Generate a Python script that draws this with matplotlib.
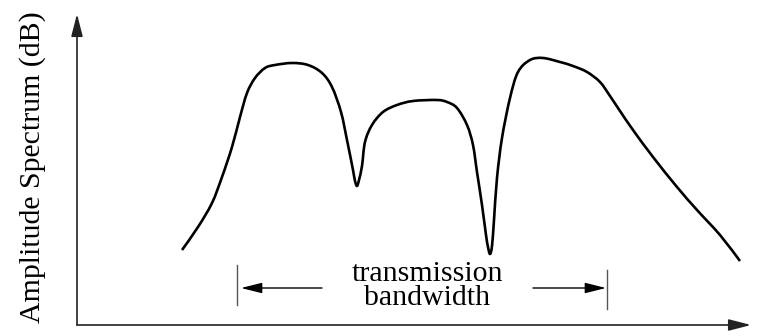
import matplotlib
matplotlib.use("Agg")
import matplotlib.pyplot as plt
from matplotlib.patches import FancyArrowPatch, PathPatch
from matplotlib.path import Path

plt.rcParams["font.family"] = ["Liberation Serif", "DejaVu Serif"]

# spectrum sketch: frequency (arbitrary units) vs amplitude (arbitrary dB units)
freq = [105, 121, 135, 145, 155, 163, 170, 178, 188, 198, 215, 231, 245, 255,
        264, 270, 276, 278, 280, 282, 285, 288, 295, 306, 320, 336, 360, 370,
        380, 390, 396, 400, 405, 409, 411, 413, 415, 417, 420, 425, 433, 441,
        453, 466, 483, 496, 510, 523, 533, 543, 556, 576, 600, 620, 643, 663]
amp = [75, 98, 122, 148, 178, 208, 232, 247, 257, 260, 262, 260, 252, 238,
       213, 185, 155, 144, 139, 145, 159, 183, 200, 213, 220, 224, 225, 223,
       217, 200, 180, 153, 120, 90, 78, 71, 79, 105, 147, 187, 227, 253,
       265, 267, 263, 259, 253, 243, 229, 214, 195, 168, 138, 115, 90, 64]

band_lo, band_hi = 164, 529   # transmission band edges
band_label = "transmission\nbandwidth"
ylabel = "Amplitude Spectrum (dB)"


def smooth_path(xs, ys):
    """Catmull-Rom through the points, emitted as cubic Bezier segments."""
    pts = list(zip(xs, ys))
    verts = [pts[0]]
    codes = [Path.MOVETO]
    n = len(pts)
    for i in range(n - 1):
        p0 = pts[max(i - 1, 0)]
        p1 = pts[i]
        p2 = pts[i + 1]
        p3 = pts[min(i + 2, n - 1)]
        c1 = (p1[0] + (p2[0] - p0[0]) / 6, p1[1] + (p2[1] - p0[1]) / 6)
        c2 = (p2[0] - (p3[0] - p1[0]) / 6, p2[1] - (p3[1] - p1[1]) / 6)
        verts += [c1, c2, p2]
        codes += [Path.CURVE4] * 3
    return Path(verts, codes)


fig = plt.figure(figsize=(7.62, 3.36), dpi=100)
ax = fig.add_axes([0, 0, 1, 1])
ax.set_xlim(-77, 685)
ax.set_ylim(-11, 325)
ax.axis("off")

# axes drawn as arrows
head = "-|>,head_length=0.85,head_width=0.22"
ax.annotate("", xy=(0, 311), xytext=(0, 0),
            arrowprops=dict(arrowstyle=head, color="#222", lw=1.2,
                            mutation_scale=16, shrinkA=0, shrinkB=0))
ax.annotate("", xy=(674, 0), xytext=(0, 0),
            arrowprops=dict(arrowstyle=head, color="#222", lw=1.2,
                            mutation_scale=16, shrinkA=0, shrinkB=0))

ax.add_patch(PathPatch(smooth_path(freq, amp), facecolor="none",
                       edgecolor="black", lw=1.9, joinstyle="round"))

# band edge markers and arrows
ax.plot([band_lo - 4, band_lo - 4], [20, 60], color="#555", lw=1.0)
ax.plot([band_hi + 1, band_hi + 1], [16, 55], color="#555", lw=1.0)
for tail, tip in [(245, band_lo), (456, band_hi)]:
    ax.add_patch(FancyArrowPatch((tail, 37), (tip, 37),
                                 arrowstyle="-|>,head_length=0.8,head_width=0.2",
                                 mutation_scale=16, color="black", lw=1.0,
                                 shrinkA=0, shrinkB=0))
ax.text(350, 39, band_label, ha="center", va="center", fontsize=21.5,
        linespacing=0.88)

ax.text(-44, 158, ylabel, rotation=90, ha="center", va="center", fontsize=21.5)

fig.savefig("out.png", dpi=100)
